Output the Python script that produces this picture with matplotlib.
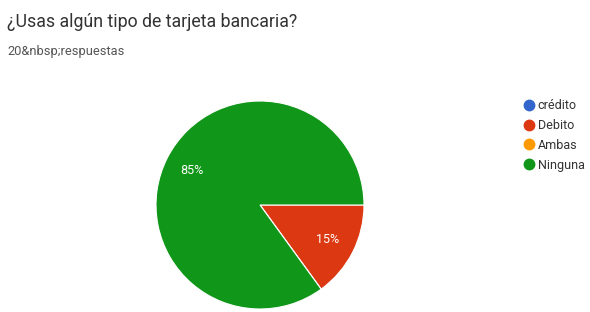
import matplotlib
matplotlib.use("Agg")
import matplotlib.pyplot as plt
from matplotlib.lines import Line2D

plt.rcParams['font.family'] = ['Roboto', 'DejaVu Sans']

labels = ['crédito', 'Debito', 'Ambas', 'Ninguna']
counts = [0, 3, 0, 17]
colors = ['#3366cc', '#dc3912', '#ff9900', '#109618']

title = '¿Usas algún tipo de tarjeta bancaria?'
subtitle = '20&nbsp;respuestas'

fig = plt.figure(figsize=(5.9, 3.12), dpi=100)
fig.text(7 / 590, 1 - 22 / 312, title, fontsize=12.8, color='#333333', va='center')
fig.text(7 / 590, 1 - 52 / 312, subtitle, fontsize=9.3, color='#555555', va='center')

# pie centre ~ (260, 205) px, radius ~104 px
ax = fig.add_axes([(260 - 104) / 590, (312 - 309) / 312, 208 / 590, 208 / 312])


def fmt(p):
    return '%d%%' % round(p) if p >= 1 else ''


wedges, texts, autotexts = ax.pie(
    counts, colors=colors, startangle=0, counterclock=False,
    autopct=fmt, pctdistance=0.73,
    wedgeprops=dict(edgecolor='white', linewidth=0.8),
    textprops=dict(color='white', fontsize=9))
ax.set_xlim(-1, 1)
ax.set_ylim(-1, 1)
ax.set_aspect('equal')

handles = [Line2D([], [], marker='o', linestyle='', markersize=7.5,
                  markerfacecolor=c, markeredgecolor=c) for c in colors]
fig.legend(handles, labels, loc='upper left', bbox_to_anchor=(516 / 590, 1 - 94 / 312),
           frameon=False, fontsize=9, handletextpad=0.15, labelspacing=0.55,
           borderaxespad=0, handlelength=1.2, labelcolor='#333333')

fig.savefig('out.png', dpi=100)
